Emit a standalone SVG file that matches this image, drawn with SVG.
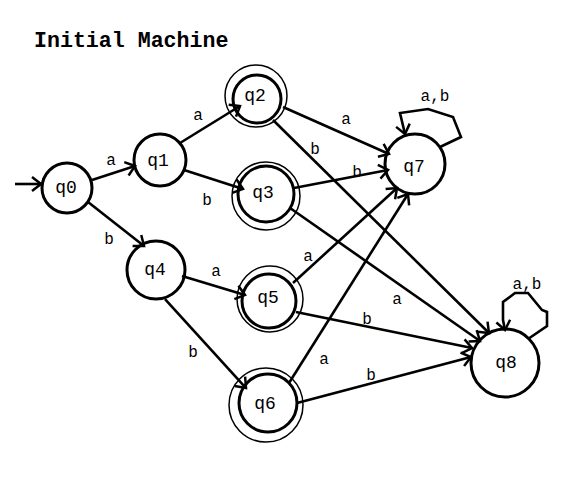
<svg xmlns="http://www.w3.org/2000/svg" width="582" height="479" viewBox="0 0 582 479">
<defs>
<marker id="ah" markerUnits="userSpaceOnUse" markerWidth="20" markerHeight="20" refX="0" refY="0" viewBox="-12 -10 14 20" orient="auto" overflow="visible">
<path d="M-9,-7 L0,0 L-9,7" fill="none" stroke="#000" stroke-width="2.5"/>
</marker>
<style>
.n{fill:none;stroke:#000;stroke-width:3}
.o{fill:none;stroke:#000;stroke-width:1.5}
.e{fill:none;stroke:#000;stroke-width:2.6;marker-end:url(#ah)}
.l{font-family:"Liberation Mono","Courier New",monospace;font-size:18px;fill:#000;text-anchor:middle}
.t{font-family:"Liberation Mono","Courier New",monospace;font-size:16px;fill:#000;text-anchor:middle}
.h{font-family:"Liberation Mono","Courier New",monospace;font-size:21.6px;font-weight:bold;fill:#000}
</style>
</defs>
<rect width="582" height="479" fill="#fff"/>
<text class="h" x="34" y="47">Initial Machine</text>
<g id="q0"><circle class="n" cx="67" cy="188" r="25"/><text class="l" x="66" y="193">q0</text></g>
<g id="q1"><circle class="n" cx="160" cy="160" r="26"/><text class="l" x="158" y="166">q1</text></g>
<g id="q2"><circle class="o" cx="256" cy="96" r="31"/><circle class="n" cx="257" cy="99" r="24"/><text class="l" x="255" y="101">q2</text></g>
<g id="q3"><circle class="o" cx="266" cy="196" r="34"/><circle class="n" cx="266" cy="194" r="28"/><text class="l" x="263" y="198">q3</text></g>
<g id="q4"><circle class="n" cx="156" cy="270" r="29"/><text class="l" x="155" y="275">q4</text></g>
<g id="q5"><circle class="o" cx="270" cy="299" r="33"/><circle class="n" cx="269" cy="301" r="27"/><text class="l" x="268" y="303">q5</text></g>
<g id="q6"><circle class="o" cx="266" cy="405" r="37"/><circle class="n" cx="268" cy="403" r="29"/><text class="l" x="265" y="409">q6</text></g>
<g id="q7"><circle class="n" cx="415" cy="164" r="30"/><text class="l" x="414" y="172">q7</text></g>
<g id="q8"><circle class="n" cx="505" cy="363" r="34"/><text class="l" x="506" y="368">q8</text></g>
<g id="connectors">
<path class="e" d="M15,184 L41,184"/>
<path class="e" d="M92,180 L135,166"/>
<path class="e" d="M88,202 L144,246"/>
<path class="e" d="M180,143 L240,106"/>
<path class="e" d="M184,170 L243,189"/>
<path class="e" d="M283,107 L389,154"/>
<path class="e" d="M273,120 L489,333"/>
<path class="e" d="M294,188 L388,170"/>
<path class="e" d="M290,208 L480,341"/>
<path class="e" d="M182,276 L245,295"/>
<path class="e" d="M165,299 L246,388"/>
<path class="e" d="M293,283 L397,188"/>
<path class="e" d="M296,312 L472,348"/>
<path class="e" d="M289,383 L408,194"/>
<path class="e" d="M297,403 L471,357"/>
<path class="e" d="M440,147 L461,137 L453,117 L428,109 L400,113 L405,134"/>
<path class="e" d="M528,339 L547,326 L547,312 L542,310 L528,293 L515,293 L503,302 L503,320 L505,330"/>
<text class="t" x="111" y="165">a</text>
<text class="t" x="109" y="244">b</text>
<text class="t" x="198" y="120">a</text>
<text class="t" x="207" y="205">b</text>
<text class="t" x="346" y="124">a</text>
<text class="t" x="315" y="154">b</text>
<text class="t" x="357" y="177">b</text>
<text class="t" x="397" y="304">a</text>
<text class="t" x="216" y="276">a</text>
<text class="t" x="193" y="357">b</text>
<text class="t" x="308" y="261">a</text>
<text class="t" x="367" y="324">b</text>
<text class="t" x="324" y="364">a</text>
<text class="t" x="371" y="380">b</text>
<text class="t" x="435" y="101">a,b</text>
<text class="t" x="527" y="289">a,b</text>
</g>
</svg>
